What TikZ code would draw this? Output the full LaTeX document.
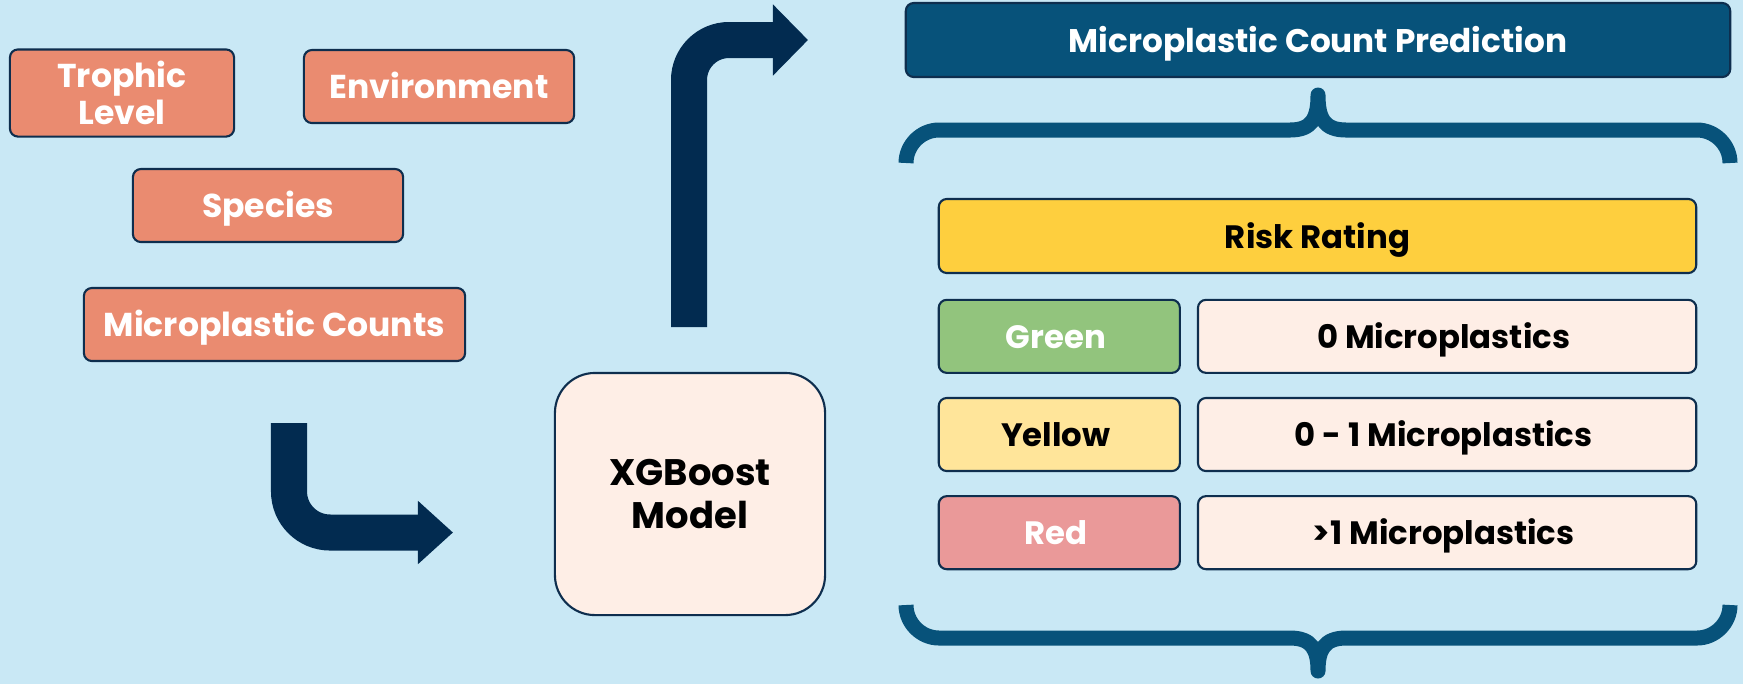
\documentclass[tikz,border=0pt]{standalone}
\usepackage{fontspec}
\setmainfont{Poppins}
\usetikzlibrary{arrows.meta,matrix}

\definecolor{bgblue}{HTML}{C9E8F5}
\definecolor{salmon}{HTML}{EA8B70}
\definecolor{edge}{HTML}{0E2E4E}
\definecolor{arrownavy}{HTML}{022B50}
\definecolor{titleblue}{HTML}{07527A}
\definecolor{peach}{HTML}{FEEEE6}
\definecolor{riskyellow}{HTML}{FECF3E}
\definecolor{lvlgreen}{HTML}{92C47D}
\definecolor{lvlyellow}{HTML}{FFE59A}
\definecolor{lvlred}{HTML}{EA9999}

\begin{document}
\begin{tikzpicture}[x=0.01cm, y=-0.01cm,
    box/.style={draw=edge, line width=0.6pt, rounded corners=0.08cm, align=center,
      font=\bfseries\fontsize{9.4pt}{10.5pt}\selectfont},
    oneline/.style={text height=0.7em, text depth=0pt},
    input/.style={box, fill=salmon, text=white, minimum height=0.73cm},
    cell/.style={box, oneline, minimum height=0.73cm, font=\bfseries\fontsize{9.2pt}{10pt}\selectfont},
    flow/.style={draw=arrownavy, line width=0.36cm},
    brace/.style={draw=titleblue, line width=0.15cm, line join=round}]

  \fill [bgblue] (0,0) rectangle (1743,684);

  % inputs
  \node (trophic) [input, minimum width=2.24cm, minimum height=0.86cm] at (122,93) {Trophic\\Level};
  \node (env) [input, oneline, minimum width=2.70cm] at (439,86.5) {Environment};
  \node (species) [input, oneline, minimum width=2.70cm] at (268,205.5) {Species};
  \node (counts) [input, oneline, minimum width=3.81cm] at (274.5,324.5) {Microplastic Counts};

  % model
  \node (model) [box, fill=peach, rounded corners=0.4cm, minimum width=2.70cm, minimum height=2.42cm,
    font=\bfseries\fontsize{10.5pt}{12.5pt}\selectfont] at (690,494) {XGBoost\\Model};

  \coordinate (in-start) at (289,423);
  \coordinate (in-end) at (453,532.5);
  \draw [flow, rounded corners=0.41cm, -{Triangle[length=0.35cm, width=0.61cm]}] (in-start) |- (in-end);

  \coordinate (out-start) at (689,327);
  \coordinate (out-end) at (808,40);
  \draw [flow, rounded corners=0.40cm, -{Triangle[length=0.35cm, width=0.69cm]}] (out-start) |- (out-end);

  % prediction
  \node (pred) [box, oneline, fill=titleblue, text=white, minimum width=8.24cm, minimum height=0.74cm,
    font=\bfseries\fontsize{9.3pt}{10pt}\selectfont] at (1318,40) {Microplastic Count Prediction};

  \draw [brace] (906,163) .. controls (906,145) and (921,130) .. (939,130) -- (1290,130)
    .. controls (1312,130) and (1318,118) .. (1318,95)
    .. controls (1318,118) and (1324,130) .. (1346,130) -- (1697,130)
    .. controls (1715,130) and (1730,145) .. (1730,163);
  \draw [brace] (906,605) .. controls (906,623) and (921,638) .. (939,638) -- (1290,638)
    .. controls (1312,638) and (1318,650) .. (1318,671)
    .. controls (1318,650) and (1324,638) .. (1346,638) -- (1697,638)
    .. controls (1715,638) and (1730,623) .. (1730,605);

  \node (rating) [cell, fill=riskyellow, minimum width=7.57cm, minimum height=0.74cm] at (1317.5,236) {Risk Rating};

  \matrix (levels) [matrix of nodes, row sep=0.23cm, column sep=0.16cm, nodes={cell},
    column 1/.style={nodes={minimum width=2.41cm}},
    column 2/.style={nodes={minimum width=4.98cm, fill=peach}}] at (1317.5,434.5)
  { |[fill=lvlgreen, text=white]| Green & 0 Microplastics \\
    |[fill=lvlyellow]| Yellow & 0 - 1 Microplastics \\
    |[fill=lvlred, text=white]| Red & >1 Microplastics \\ };

\end{tikzpicture}
\end{document}
